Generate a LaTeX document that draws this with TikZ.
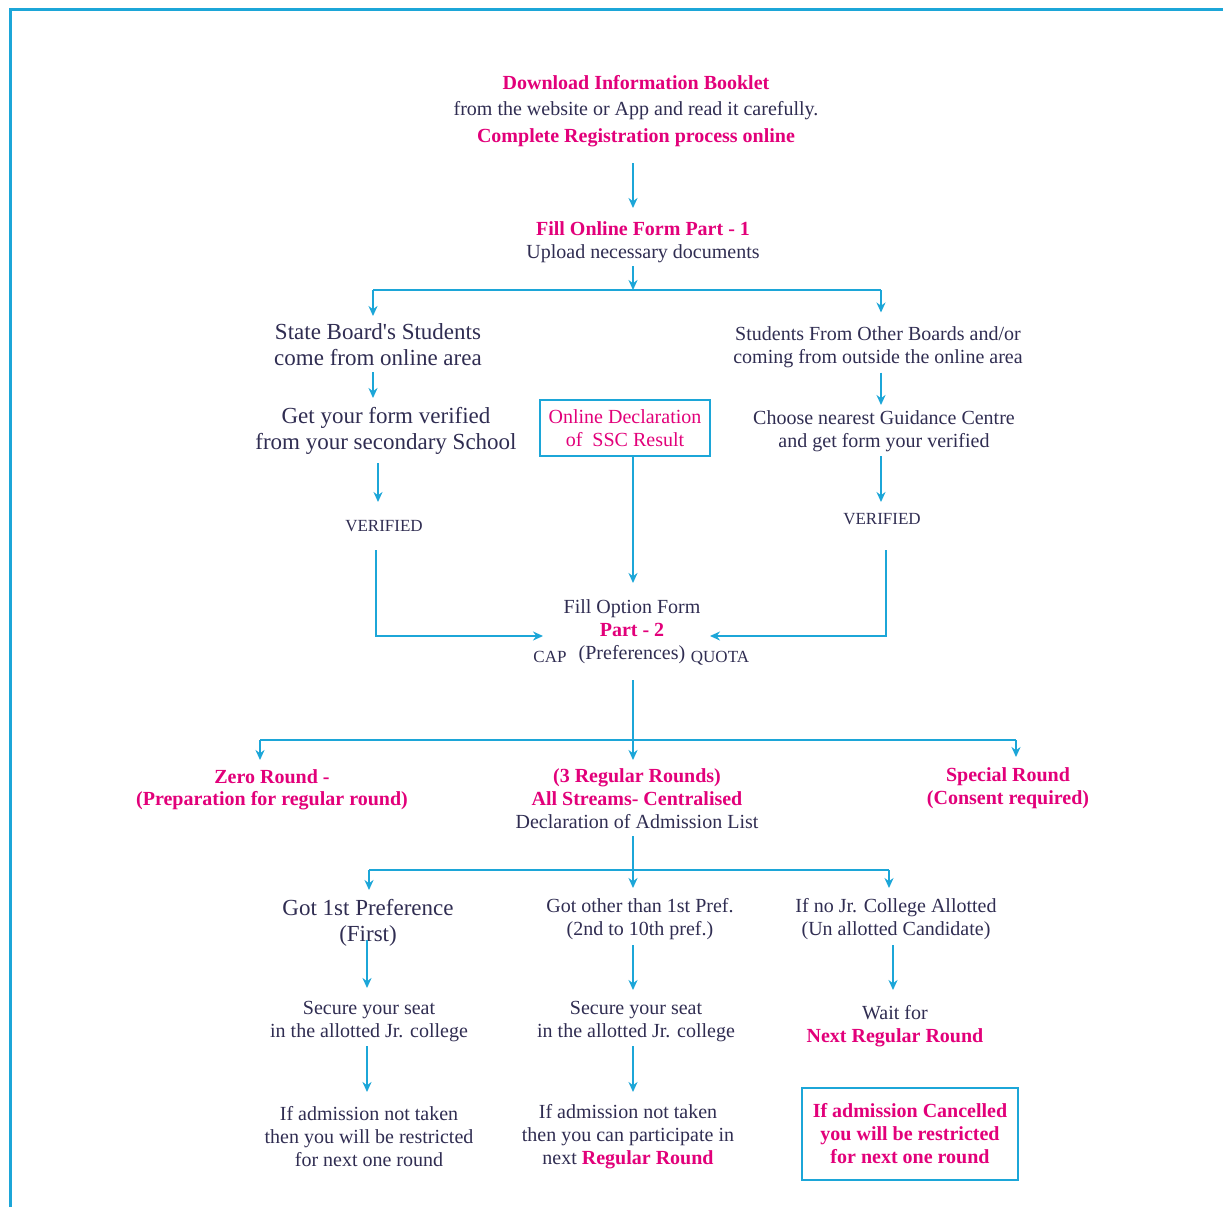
\documentclass[tikz,border=0pt]{standalone}
\usepackage{fontspec}
\setmainfont{Liberation Serif}
\usetikzlibrary{arrows.meta}
\definecolor{ln}{RGB}{28,166,216}
\definecolor{mg}{RGB}{226,0,122}
\definecolor{dk}{RGB}{48,45,82}
\newcommand{\mgb}[1]{\textcolor{mg}{\bfseries #1}}
\begin{document}
\begin{tikzpicture}[x=1pt,y=-1pt,
  lnk/.style={draw=ln, line width=2.2pt},
  arr/.style={lnk, -{Stealth[length=10pt,width=9pt]}},
  t/.style={align=center, inner sep=0pt, text=dk, font=\fontsize{20}{23}\selectfont},
  tb/.style={t, font=\fontsize{23}{26}\selectfont},
  ts/.style={t, font=\fontsize{17}{20}\selectfont},
  tm/.style={t, text=mg, font=\fontsize{20}{22.5}\selectfont\bfseries},
  box/.style={draw=ln, line width=2.2pt, inner sep=0pt, align=center, font=\fontsize{20}{23}\selectfont}]
\useasboundingbox (0,0) rectangle (1223,1207);
\fill[white] (0,0) rectangle (1223,1207);
\draw[ln, line width=3pt] (10,1207) -- (10,10) -- (1223,10);

% top
\node[t, font=\fontsize{20}{26.5}\selectfont] (top) at (636,111) {\mgb{Download Information Booklet}\\ from the website or App and read it carefully.\\ \mgb{Complete Registration process online}};
\node[t] (fill1) at (643,242) {\mgb{Fill Online Form Part - 1}\\Upload necessary documents};
\coordinate (j1) at (633,290);
\coordinate (j1L) at (373,290);
\coordinate (j1R) at (881,290);
\draw[arr, shorten <=52pt, shorten >=34pt] (top.center -| j1) -- (fill1.center -| j1);
\draw[arr, shorten <=24pt] (fill1.center -| j1) -- (j1);
\draw[lnk] (j1L) -- (j1R);

\node[tb] (state) at (378,345) {State Board\textquotesingle s Students\\come from online area};
\node[t] (other) at (878,347.5) {Students From Other Boards and/or\\coming from outside the online area};
\draw[arr, shorten >=29pt] (j1L) -- (state.center -| j1L);
\draw[arr, shorten >=35pt] (j1R) -- (other.center -| j1R);

\node[tb] (getf) at (386,431) {Get your form verified\\from your secondary School};
\node[t] (choose) at (884,431) {Choose nearest Guidance Centre\\and get form your verified};
\draw[arr, shorten <=27pt, shorten >=33pt] (state.center -| j1L) -- (getf.center -| j1L);
\draw[arr, shorten <=25pt, shorten >=26pt] (other.center -| j1R) -- (choose.center -| j1R);

\node[box, text=mg, minimum width=170pt, minimum height=56pt] (ssc) at (625,428) {Online Declaration\\of~ SSC Result};

\node[ts] (ver1) at (384,526) {VERIFIED};
\node[ts] (ver2) at (882,519) {VERIFIED};
\coordinate (cVL) at (378,463);
\draw[arr, shorten <=32pt, shorten >=24pt] (getf.center -| cVL) -- (ver1.center -| cVL);
\draw[arr, shorten <=25pt, shorten >=17pt] (choose.center -| j1R) -- (ver2.center -| j1R);

% option form
\node[t] (opt) at (632,632) {Fill Option Form\\\mgb{Part - 2}\\(Preferences)};
\node[ts] (cap) at (550,657) {CAP};
\node[ts] (quota) at (720,658) {QUOTA};
\draw[arr, shorten >=49pt] (ssc.south -| j1) -- (opt.center -| j1);
\coordinate (xL) at (376,550);
\coordinate (xR) at (886,550);
\draw[arr, shorten <=24pt, shorten >=89pt] (ver1.center -| xL) |- ([yshift=-4pt]opt.center);
\draw[arr, shorten <=31pt, shorten >=78pt] (ver2.center -| xR) |- ([yshift=-4pt]opt.center);

% rounds
\coordinate (j2) at (633,740);
\coordinate (j2L) at (260,740);
\coordinate (j2R) at (1016,740);
\draw[lnk, shorten <=48pt] (opt.center -| j2) -- (j2);
\draw[lnk] (j2L) -- (j2R);
\node[tm] (zero) at (272,790) {Zero Round -\\(Preparation for regular round)};
\node[t] (reg) at (637,799) {\mgb{(3 Regular Rounds)}\\\mgb{All Streams- Centralised}\\Declaration of Admission List};
\node[tm] (special) at (1008,788) {Special Round\\(Consent required)};
\draw[arr, shorten >=30pt] (j2L) -- (zero.center -| j2L);
\draw[arr, shorten >=39pt] (j2) -- (reg.center -| j2);
\draw[arr, shorten >=31pt] (j2R) -- (special.center -| j2R);

% allotment
\coordinate (j3) at (633,870);
\coordinate (j3L) at (369,870);
\coordinate (j3R) at (889,870);
\draw[lnk, shorten <=37pt] (reg.center -| j3) -- (j3);
\draw[lnk] (j3L) -- (j3R);
\node[tb] (got1) at (368,923) {Got 1st Preference\\(First)};
\node[t] (got2) at (640,919) {Got other than 1st Pref.\\(2nd to 10th pref.)};
\node[t] (nojr) at (896,919) {If no Jr. College Allotted\\(Un allotted Candidate)};
\draw[arr, shorten >=33pt] (j3L) -- (got1.center -| j3L);
\draw[arr, shorten >=31pt] (j3) -- (got2.center -| j3);
\draw[arr, shorten >=31pt] (j3R) -- (nojr.center -| j3R);

\node[t] (sec1) at (369,1022) {Secure your seat\\in the allotted Jr. college};
\node[t] (sec2) at (636,1022) {Secure your seat\\in the allotted Jr. college};
\node[t] (wait) at (895,1026) {Wait for\\\mgb{Next Regular Round}};
\coordinate (c1) at (367,940);
\coordinate (c3) at (893,945);
\draw[arr, shorten <=17pt, shorten >=34pt] (got1.center -| c1) -- (sec1.center -| c1);
\draw[arr, shorten <=26pt, shorten >=32pt] (got2.center -| j3) -- (sec2.center -| j3);
\draw[arr, shorten <=26pt, shorten >=36pt] (nojr.center -| c3) -- (wait.center -| c3);

\node[t] (na1) at (369,1137) {If admission not taken\\then you will be restricted\\for next one round};
\node[t] (na2) at (628,1137) {If admission not taken\\then you can participate in\\next \mgb{Regular Round}};
\node[box, text=mg, font=\fontsize{20}{23}\selectfont\bfseries, minimum width=216pt, minimum height=92pt] (cancel) at (910,1134) {If admission Cancelled\\you will be restricted\\for next one round};
\draw[arr, shorten <=24pt, shorten >=45pt] (sec1.center -| c1) -- (na1.center -| c1);
\draw[arr, shorten <=24pt, shorten >=45pt] (sec2.center -| j3) -- (na2.center -| j3);
\end{tikzpicture}
\end{document}
